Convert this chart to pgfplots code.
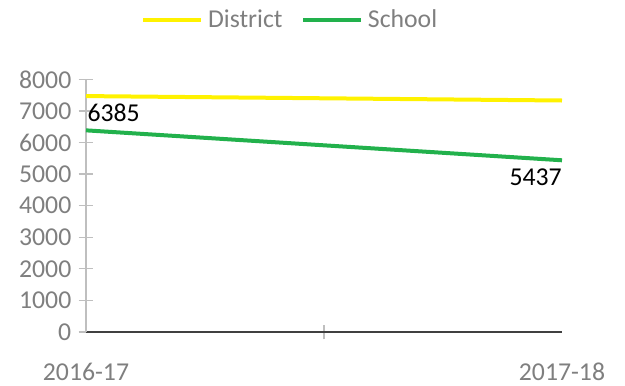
\documentclass[border=0pt]{standalone}
\usepackage{pgfplots}
\pgfplotsset{compat=1.18}
\usepackage{fontspec}
\setmainfont{Carlito}
\definecolor{distyel}{HTML}{FFF200}
\definecolor{schgreen}{HTML}{22B14C}
\definecolor{labgray}{HTML}{7F7F7F}
\definecolor{axgray}{HTML}{BFBFBF}
\definecolor{axdark}{HTML}{404040}
\newcommand{\chartfont}{\fontsize{19.3}{23}\selectfont}

\begin{document}
\begin{tikzpicture}[x=0.75pt,y=0.75pt]
\begin{axis}[
    at={(0,0)}, anchor=south west,
    scale only axis,
    width=357pt, height=189.5pt,
    xmin=0, xmax=1,
    ymin=0, ymax=8000,
    ytick={0,1000,...,8000},
    xtick={0.5},
    xticklabels={},
    extra x ticks={0,1},
    extra x tick labels={2016-17,2017-18},
    extra x tick style={major tick length=0pt},
    x tick style={axgray, line width=1.1pt},
    y tick style={axgray, line width=0.9pt},
    major tick length=11pt,
    tick align=center,
    axis x line*=bottom,
    axis y line*=left,
    x axis line style={axdark, line width=1.1pt, -},
    y axis line style={axgray, line width=1.1pt, -},
    ticklabel style={font=\chartfont, text=labgray},
    yticklabel style={xshift=-2pt},
    xticklabel style={yshift=-20pt},
    scaled y ticks=false,
    /pgf/number format/assume math mode=true,
    /pgf/number format/1000 sep={},
    legend columns=2,
    legend style={draw=none, fill=none, at={(0.43,1.235)}, anchor=center,
        font=\chartfont, text=labgray,
        /tikz/every odd column/.append style={column sep=2pt},
        /tikz/every even column/.append style={column sep=12pt}},
    legend image code/.code={\draw[#1] (0pt,0pt) -- (43pt,0pt);},
    clip=false,
]
\addplot[distyel, line width=3pt] coordinates {(0,7470) (1,7330)};
\addlegendentry{District}
\addplot[schgreen, line width=3pt] coordinates {(0,6385) (1,5437)};
\addlegendentry{School}
\node[anchor=south west, inner sep=0pt, font=\chartfont, yshift=6pt, xshift=1pt] at (axis cs:0,6385) {6385};
\node[anchor=north east, inner sep=0pt, font=\chartfont, yshift=-6pt] at (axis cs:1,5437) {5437};
\end{axis}
\useasboundingbox (-86,-49) rectangle (539,332);
\end{tikzpicture}
\end{document}
